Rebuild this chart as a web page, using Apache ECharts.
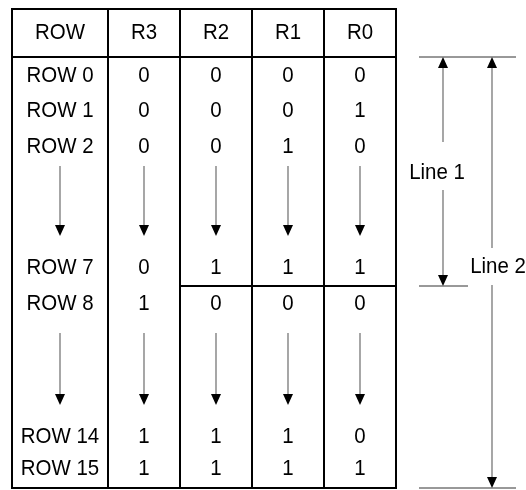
<!DOCTYPE html>
<html><head><meta charset="utf-8">
<script src="https://cdn.jsdelivr.net/npm/echarts@6/dist/echarts.min.js"></script>
<style>html,body{margin:0;padding:0;background:#fff}#c{width:526px;height:490px}</style>
</head><body><div id="c"></div><script>
// ---- data ----
const columns = ['ROW', 'R3', 'R2', 'R1', 'R0'];
const rowLabels = ['ROW 0', 'ROW 1', 'ROW 2', 'ROW 7', 'ROW 8', 'ROW 14', 'ROW 15'];
const bitR3 = [0, 0, 0, 0, 1, 1, 1];
const bitR2 = [0, 0, 0, 1, 0, 1, 1];
const bitR1 = [0, 0, 1, 1, 0, 1, 1];
const bitR0 = [0, 1, 0, 1, 0, 0, 1];
const spanLabels = ['Line 1', 'Line 2'];

// ---- layout (pixel space of the hidden axes) ----
const colEdges = [12, 108, 180, 252, 324, 396];
const tableTop = 9, headerBottom = 57, tableBottom = 488, headerY = 33;
const rowY = [76, 111, 147, 268, 304, 437, 469];
const skipArrows = [[166, 236], [333, 405]];
const splitY = 286;           // boundary ROW 7 / ROW 8 in columns R2..R0
const splitFromCol = 2;
const dimX = [443, 492];
const dimEnds = [[headerBottom, splitY], [headerBottom, tableBottom]];
const dimGaps = [[142, 190], [248, 285]];
const dimLabelPos = [[437, 173], [498, 267]];
const extLines = [[headerBottom, 419, 516], [splitY, 419, 468], [tableBottom, 419, 516]];

const FONT = '22px "Liberation Sans", Arial, sans-serif';
const SX = 0.93;
const colCenter = i => (colEdges[i] + colEdges[i + 1]) / 2;
const bitCols = [bitR3, bitR2, bitR1, bitR0];

// cell texts as data points
const cellData = [];
columns.forEach((c, i) => cellData.push([colCenter(i), headerY, c]));
rowLabels.forEach((r, j) => {
  cellData.push([colCenter(0), rowY[j], r]);
  bitCols.forEach((col, k) => cellData.push([colCenter(k + 1), rowY[j], String(col[j])]));
});

// arrow data: [x, yStart, yTip]
const arrowData = [];
skipArrows.forEach(s => columns.forEach((c, i) => arrowData.push([colCenter(i), s[0], s[1]])));

function head(api, x, tipY, dir) {
  const p = api.coord([x, tipY]);
  const h = 11, w = 5;
  return { type: 'polygon', shape: { points: [[p[0] - w, p[1] - dir * h], [p[0] + w, p[1] - dir * h], [p[0], p[1]]] }, style: { fill: '#000' } };
}
function seg(api, x1, y1, x2, y2, stroke, lw) {
  const a = api.coord([x1, y1]), b = api.coord([x2, y2]);
  return { type: 'line', shape: { x1: a[0], y1: a[1], x2: b[0], y2: b[1] }, style: { stroke: stroke, lineWidth: lw } };
}
function label(api, pos, text) {
  const p = api.coord(pos);
  return { type: 'text', x: p[0], y: p[1], scaleX: SX, style: { text: text, x: 0, y: 0, font: FONT, fill: '#000', align: 'center', verticalAlign: 'middle' } };
}

const chart = echarts.init(document.getElementById('c'), null, { renderer: 'canvas' });
chart.setOption({
  animation: false,
  backgroundColor: '#fff',
  grid: { left: 0, right: 0, top: 0, bottom: 0 },
  xAxis: { type: 'value', min: 0, max: 526, show: false },
  yAxis: { type: 'value', min: 0, max: 490, inverse: true, show: false },
  series: [
    { // table borders
      type: 'custom', data: [[0, 0]], silent: true,
      renderItem: (params, api) => {
        const ch = [];
        colEdges.forEach(x => ch.push(seg(api, x, tableTop - 1, x, tableBottom + 1, '#000', 2)));
        [tableTop, headerBottom, tableBottom].forEach(y => ch.push(seg(api, colEdges[0], y, colEdges[colEdges.length - 1], y, '#000', 2)));
        ch.push(seg(api, colEdges[splitFromCol], splitY, colEdges[colEdges.length - 1], splitY, '#000', 2));
        return { type: 'group', children: ch };
      }
    },
    { // cell texts
      type: 'custom', data: cellData, silent: true,
      renderItem: (params, api) => label(api, [api.value(0), api.value(1)], cellData[params.dataIndex][2])
    },
    { // skip arrows
      type: 'custom', data: arrowData, silent: true,
      renderItem: (params, api) => {
        const x = api.value(0), y0 = api.value(1), y1 = api.value(2);
        return { type: 'group', children: [seg(api, x, y0, x, y1 - 8, '#777', 1.3), head(api, x, y1, 1)] };
      }
    },
    { // dimension lines
      type: 'custom', data: spanLabels.map((s, i) => [dimX[i], dimEnds[i][0], dimEnds[i][1]]), silent: true,
      renderItem: (params, api) => {
        const i = params.dataIndex;
        const x = api.value(0), y0 = api.value(1), y1 = api.value(2);
        const g = dimGaps[i];
        return { type: 'group', children: [
          seg(api, x, y0 + 8, x, g[0], '#777', 1.3),
          seg(api, x, g[1], x, y1 - 8, '#777', 1.3),
          head(api, x, y0, -1), head(api, x, y1, 1),
          label(api, dimLabelPos[i], spanLabels[i])
        ] };
      }
    },
    { // extension lines
      type: 'custom', data: extLines, silent: true,
      renderItem: (params, api) => seg(api, api.value(1), api.value(0), api.value(2), api.value(0), '#333', 1)
    }
  ]
});
</script></body></html>
